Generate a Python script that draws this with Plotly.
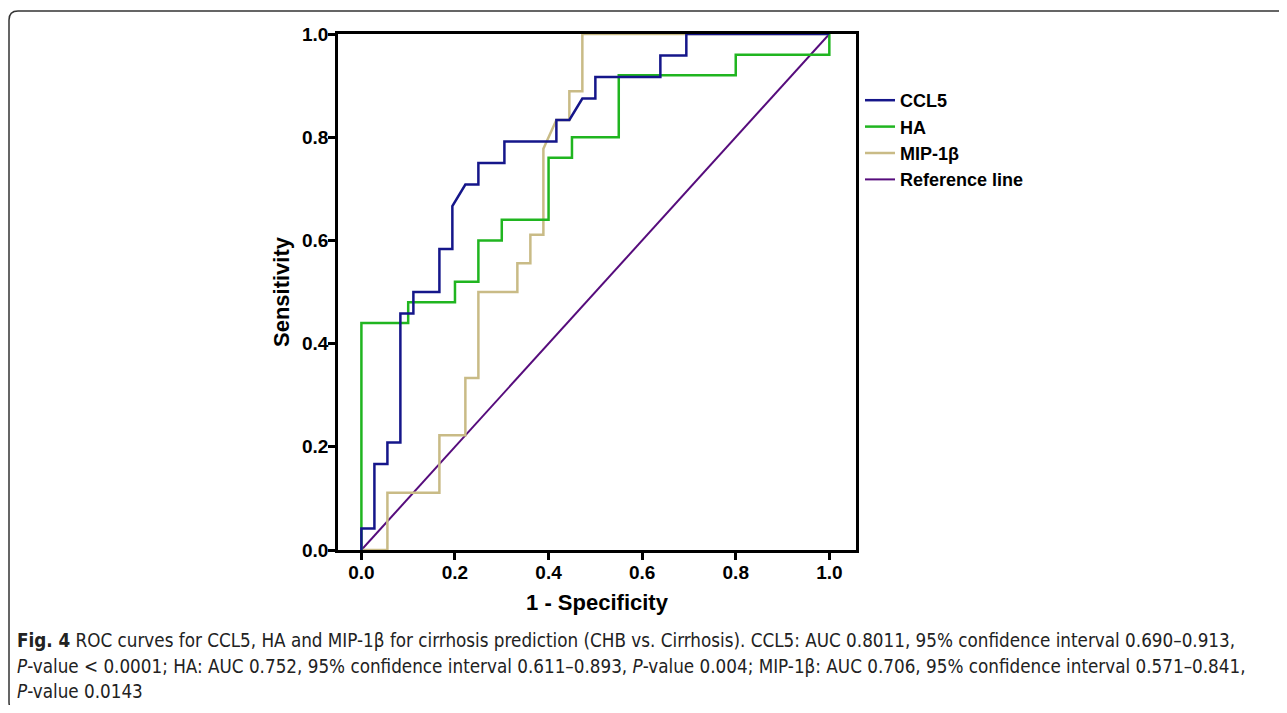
import plotly.graph_objects as go

# ---- data (vertices of ROC step curves) ----
ccl5_x = [0, 0, 0.0278, 0.0278, 0.0556, 0.0556, 0.0833, 0.0833, 0.1111, 0.1111, 0.1667, 0.1667,
          0.1944, 0.1944, 0.2222, 0.25, 0.25, 0.3056, 0.3056, 0.4167, 0.4167, 0.4444, 0.4722,
          0.5, 0.5, 0.6389, 0.6389, 0.6944, 0.6944, 1]
ccl5_y = [0, 0.0417, 0.0417, 0.1667, 0.1667, 0.2083, 0.2083, 0.4583, 0.4583, 0.5, 0.5, 0.5833,
          0.5833, 0.6667, 0.7083, 0.7083, 0.75, 0.75, 0.7917, 0.7917, 0.8333, 0.8333, 0.875,
          0.875, 0.9167, 0.9167, 0.9583, 0.9583, 1, 1]

ha_x = [0, 0, 0.1, 0.1, 0.2, 0.2, 0.25, 0.25, 0.3, 0.3, 0.4, 0.4, 0.45, 0.45, 0.55, 0.55,
        0.8, 0.8, 1, 1]
ha_y = [0, 0.44, 0.44, 0.48, 0.48, 0.52, 0.52, 0.6, 0.6, 0.64, 0.64, 0.76, 0.76, 0.8, 0.8, 0.92,
        0.92, 0.96, 0.96, 1]

mip_x = [0, 0.0556, 0.0556, 0.1667, 0.1667, 0.2222, 0.2222, 0.25, 0.25, 0.3333, 0.3333, 0.3611,
         0.3611, 0.3889, 0.3889, 0.4167, 0.4444, 0.4444, 0.4722, 0.4722, 1]
mip_y = [0, 0, 0.1111, 0.1111, 0.2222, 0.2222, 0.3333, 0.3333, 0.5, 0.5, 0.5556, 0.5556,
         0.6111, 0.6111, 0.7778, 0.8333, 0.8333, 0.8889, 0.8889, 1, 1]

ref_x = [0, 1]
ref_y = [0, 1]

x_ticks = [0.0, 0.2, 0.4, 0.6, 0.8, 1.0]
y_ticks = [0.0, 0.2, 0.4, 0.6, 0.8, 1.0]

caption_lines = [
    "<b>Fig. 4</b> ROC curves for CCL5, HA and MIP-1β for cirrhosis prediction (CHB vs. Cirrhosis). "
    "CCL5: AUC 0.8011, 95% confidence interval 0.690–0.913,",
    "<i>P</i>-value &lt; 0.0001; HA: AUC 0.752, 95% confidence interval 0.611–0.893, <i>P</i>-value 0.004; "
    "MIP-1β: AUC 0.706, 95% confidence interval 0.571–0.841,",
    "<i>P</i>-value 0.0143",
]

# ---- layout geometry (page pixels; the figure div sits at an 8px body margin) ----
OFF = 8
W, H = 1287 - 2 * OFF, 713 - 2 * OFF
L, T = 338 - OFF, 34 - OFF
R = W - (856 - OFF)
B = H - (550 - OFF)
PW, PH = W - L - R, H - T - B


def px(x):
    return (x - OFF - L) / PW


def py(y):
    return (H - B - (y - OFF)) / PH


FONT = "Liberation Sans, Arial, sans-serif"

fig = go.Figure()
fig.add_trace(go.Scatter(x=ref_x, y=ref_y, mode="lines", name="Reference line",
                         line=dict(color="#560c7c", width=2), legendrank=4))
fig.add_trace(go.Scatter(x=mip_x, y=mip_y, mode="lines", name="MIP-1β",
                         line=dict(color="#c9bb86", width=2.5), legendrank=3))
fig.add_trace(go.Scatter(x=ha_x, y=ha_y, mode="lines", name="HA",
                         line=dict(color="#20b520", width=2.5), legendrank=2))
fig.add_trace(go.Scatter(x=ccl5_x, y=ccl5_y, mode="lines", name="CCL5",
                         line=dict(color="#15168a", width=2.5), legendrank=1))

axis_common = dict(showgrid=False, zeroline=False, showline=True, linecolor="black",
                   linewidth=2.5, mirror=True, ticks="outside", ticklen=7, tickwidth=2.5,
                   tickcolor="black", tickformat=".1f", ticklabelstandoff=-4,
                   tickfont=dict(family=FONT, size=19, color="black", weight="bold"))

fig.update_xaxes(range=[-0.05, 1.057], tickvals=x_ticks, **axis_common,
                 title=dict(text="<b>1 - Specificity</b>", standoff=14,
                            font=dict(family=FONT, size=22, color="black")))
fig.update_yaxes(range=[0, 1], tickvals=y_ticks, **axis_common,
                 title=dict(text="<b>Sensitivity</b>", standoff=7,
                            font=dict(family=FONT, size=22, color="black")))

annotations = []
for txt, yy in zip(caption_lines, [640, 666, 691]):
    annotations.append(dict(text=txt, xref="paper", yref="paper", x=px(15), y=py(yy),
                            xanchor="left", yanchor="middle", showarrow=False, align="left",
                            font=dict(family="Liberation Sans Narrow, DejaVu Sans Condensed, sans-serif",
                                      size=18.7, color="#222222")))

# outer rounded border (open on the right / bottom beyond page)
r = 9
x0, y0 = 9, 11
x_right, y_bot = 1300, 711
path = (f"M {px(x_right)},{py(y0)} L {px(x0 + r)},{py(y0)} "
        f"Q {px(x0)},{py(y0)} {px(x0)},{py(y0 + r)} "
        f"L {px(x0)},{py(y_bot - r)} Q {px(x0)},{py(y_bot)} {px(x0 + r)},{py(y_bot)} "
        f"L {px(x_right)},{py(y_bot)}")
shapes = [dict(type="path", path=path, xref="paper", yref="paper",
               line=dict(color="#333333", width=1.5), layer="above")]

fig.update_layout(
    width=W, height=H, margin=dict(l=L, r=R, t=T, b=B, autoexpand=False),
    plot_bgcolor="white", paper_bgcolor="white",
    showlegend=True,
    legend=dict(x=px(860), y=py(82), xanchor="left", yanchor="top",
                font=dict(family=FONT, size=18, color="black", weight="bold"),
                bgcolor="rgba(0,0,0,0)", tracegroupgap=0, itemwidth=30),
    annotations=annotations, shapes=shapes,
)

fig.write_html("out.html")
